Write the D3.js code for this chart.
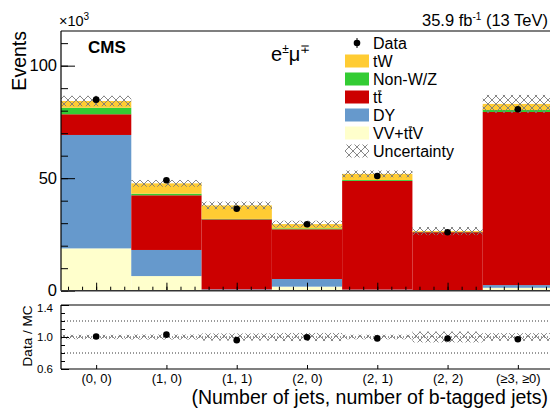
<!DOCTYPE html>
<html>
<head>
<meta charset="utf-8">
<script src="https://cdn.jsdelivr.net/npm/d3@7"></script>
<style>
    body { margin: 0; background: #fff; }
    svg { font-family: "Liberation Sans", Arial, sans-serif; }
    .axis path, .axis line { stroke: #000; }
    .axis text { font-family: "Liberation Sans", Arial, sans-serif; fill: #000; }
</style>
</head>
<body>
<script>
// Bins (number of jets, number of b-tagged jets)
var bins = ["(0, 0)", "(1, 0)", "(1, 1)", "(2, 0)", "(2, 1)", "(2, 2)", "(\u22653, \u22650)"];

// Stacked MC contributions, in units of 10^3 events (bottom to top)
var vvttv = [18.8, 6.5, 0.3, 1.8, 0.3, 0.1, 1.3];
var dy    = [50.4, 11.6, 0.3, 3.4, 0.2, 0.1, 1.2];
var ttbar = [9.2, 24.3, 31.1, 22.1, 48.3, 25.8, 76.9];
var nonwz = [2.9, 0.7, 0.2, 0.4, 0.4, 0.1, 0.9];
var tw    = [3.0, 4.6, 6.0, 1.9, 2.7, 0.4, 2.7];

// Observed data and total MC uncertainty (10^3 events)
var data = [84.9, 49.1, 36.4, 29.5, 51.0, 26.0, 80.6];
var unc  = [2.3, 1.5, 1.7, 1.5, 1.5, 1.8, 4.0];

var yTicksMain = [0, 50, 100];
var yTicksRatio = [0.6, 1.0, 1.4];

var processes = [
    { key: "VV+ttV", values: vvttv, color: "#ffffcc" },
    { key: "DY", values: dy, color: "#6699cc" },
    { key: "tt", values: ttbar, color: "#cc0000" },
    { key: "Non-W/Z", values: nonwz, color: "#33cc33" },
    { key: "tW", values: tw, color: "#ffcc33" }
];

var width = 550,
    height = 408;

var svg = d3.select("body")
    .append("svg")
    .attr("width", width)
    .attr("height", height);

// Cross hatch for the uncertainty band
var defs = svg.append("defs");
var pat = defs.append("pattern")
    .attr("id", "hatch")
    .attr("patternUnits", "userSpaceOnUse")
    .attr("width", 8)
    .attr("height", 8);
pat.append("path")
    .attr("d", "M0,0L8,8M0,8L8,0")
    .attr("stroke", "#7a7a7a")
    .attr("stroke-width", 0.9)
    .attr("fill", "none");

// Scales
var x = d3.scaleLinear().domain([0, bins.length]).range([61, 553]);
var y = d3.scaleLinear().domain([0, 115.4]).range([290.7, 31]);
var yr = d3.scaleLinear().domain([0.6, 1.4]).range([369, 305]);

// Build the stack
var rows = bins.map(function(b, i) {
    var r = { bin: b, i: i };
    processes.forEach(function(p) { r[p.key] = p.values[i]; });
    return r;
});
var stack = d3.stack().keys(processes.map(function(p) { return p.key; }));
var series = stack(rows);

var main = svg.append("g").attr("class", "main");

main.selectAll(".proc")
    .data(series)
    .enter()
    .append("g")
    .attr("class", "proc")
    .attr("fill", function(d, k) { return processes[k].color; })
    .selectAll("rect")
    .data(function(d) { return d; })
    .enter()
    .append("rect")
    .attr("x", function(d) { return x(d.data.i); })
    .attr("width", function(d) { return x(d.data.i + 1) - x(d.data.i); })
    .attr("y", function(d) { return y(d[1]); })
    .attr("height", function(d) { return y(d[0]) - y(d[1]); });

var totals = bins.map(function(b, i) {
    return d3.sum(processes, function(p) { return p.values[i]; });
});

// Uncertainty band
main.selectAll(".unc")
    .data(totals)
    .enter()
    .append("rect")
    .attr("class", "unc")
    .attr("x", function(d, i) { return x(i); })
    .attr("width", function(d, i) { return x(i + 1) - x(i); })
    .attr("y", function(d, i) { return y(d + unc[i]); })
    .attr("height", function(d, i) { return y(d - unc[i]) - y(d + unc[i]); })
    .attr("fill", "url(#hatch)");

// Data points
main.selectAll(".data")
    .data(data)
    .enter()
    .append("circle")
    .attr("class", "data")
    .attr("cx", function(d, i) { return x(i + 0.5); })
    .attr("cy", function(d) { return y(d); })
    .attr("r", 3.3)
    .attr("fill", "#000");

// Axes of the main panel
var minorY = d3.range(0, 115, 10);
svg.append("g")
    .attr("class", "axis")
    .attr("transform", "translate(61,0)")
    .call(d3.axisLeft(y).tickValues(minorY).tickSize(-7).tickFormat(""))
    .call(function(g) { g.select(".domain").remove(); });
svg.append("g")
    .attr("class", "axis")
    .attr("transform", "translate(61,0)")
    .call(d3.axisLeft(y).tickValues(yTicksMain).tickSize(-14).tickPadding(3))
    .call(function(g) {
        g.select(".domain").remove();
        g.selectAll("text").attr("font-size", 16.5).attr("dx", -1);
    });

var minorX = d3.range(0.1, bins.length, 0.2);
svg.append("g")
    .attr("class", "axis")
    .attr("transform", "translate(0,290.7)")
    .call(d3.axisBottom(x).tickValues(minorX).tickSize(-4).tickFormat(""))
    .call(function(g) { g.select(".domain").remove(); });
svg.append("g")
    .attr("class", "axis")
    .attr("transform", "translate(0,290.7)")
    .call(d3.axisBottom(x).tickValues(d3.range(0.5, bins.length, 1)).tickSize(-8).tickFormat(""))
    .call(function(g) { g.select(".domain").remove(); });

// Frame lines
svg.append("line").attr("x1", 61).attr("x2", 550).attr("y1", 31).attr("y2", 31)
    .attr("stroke", "#000").attr("stroke-width", 1.2);
svg.append("line").attr("x1", 61).attr("x2", 61).attr("y1", 31).attr("y2", 290.7)
    .attr("stroke", "#000").attr("stroke-width", 1.2);
svg.append("line").attr("x1", 61).attr("x2", 550).attr("y1", 290.7).attr("y2", 290.7)
    .attr("stroke", "#333").attr("stroke-width", 1.5);

// Texts of the main panel
svg.append("text")
    .attr("transform", "translate(26,31) rotate(-90)")
    .attr("text-anchor", "end")
    .attr("font-size", 19.5)
    .text("Events");

var e3 = svg.append("text").attr("x", 59).attr("y", 26).attr("font-size", 14.5);
e3.append("tspan").text("\u00d710");
e3.append("tspan").attr("dy", -6).attr("font-size", 10).text("3");

svg.append("text")
    .attr("x", 88).attr("y", 53)
    .attr("font-size", 17)
    .attr("font-weight", "bold")
    .text("CMS");

var lumi = svg.append("text").attr("x", 548).attr("y", 26)
    .attr("text-anchor", "end").attr("font-size", 16.5);
lumi.append("tspan").text("35.9 fb");
lumi.append("tspan").attr("dy", -6).attr("font-size", 10).text("-1");
lumi.append("tspan").attr("dy", 6).text(" (13 TeV)");

var chan = svg.append("text").attr("x", 271).attr("y", 61).attr("font-size", 20);
chan.append("tspan").text("e");
chan.append("tspan").attr("dy", -8).attr("font-size", 12).text("\u00b1");
chan.append("tspan").attr("dy", 8).text("\u03bc");
chan.append("tspan").attr("dy", -8).attr("font-size", 12).text("\u2213");

// Legend
var legendItems = [
    { label: "Data", type: "data" },
    { label: "tW", type: "fill", color: "#ffcc33" },
    { label: "Non-W/Z", type: "fill", color: "#33cc33" },
    { label: "tt", type: "fill", color: "#cc0000", bar: 1 },
    { label: "DY", type: "fill", color: "#6699cc" },
    { label: "VV+ttV", type: "fill", color: "#ffffcc", bar: 4 },
    { label: "Uncertainty", type: "hatch" }
];

var legend = svg.append("g").attr("class", "legend");
var rowsL = legend.selectAll("g")
    .data(legendItems)
    .enter()
    .append("g")
    .attr("transform", function(d, i) { return "translate(345," + (43 + i * 18) + ")"; });

rowsL.each(function(d) {
    var g = d3.select(this);
    if (d.type === "data") {
        g.append("circle").attr("cx", 12).attr("cy", 0).attr("r", 3.3).attr("fill", "#000");
        g.append("line").attr("x1", 12).attr("x2", 12).attr("y1", -5).attr("y2", 5)
            .attr("stroke", "#000").attr("stroke-width", 1);
    } else if (d.type === "fill") {
        g.append("rect").attr("x", 0).attr("y", -6.5).attr("width", 24).attr("height", 13)
            .attr("fill", d.color);
    } else {
        g.append("rect").attr("x", 0).attr("y", -6.5).attr("width", 24).attr("height", 13)
            .attr("fill", "url(#hatch)");
    }
    var t = g.append("text").attr("x", 28).attr("y", 6).attr("font-size", 16).text(d.label);
    // Bar over the anti-top "t"
    if (d.bar !== undefined) {
        var ext = t.node().getExtentOfChar(d.bar);
        g.append("line")
            .attr("x1", ext.x + 0.5).attr("x2", ext.x + ext.width - 0.5)
            .attr("y1", ext.y + 2).attr("y2", ext.y + 2)
            .attr("stroke", "#000").attr("stroke-width", 1.1);
    }
});

// Ratio panel
var ratio = svg.append("g").attr("class", "ratio");

[0.8, 1.0, 1.2].forEach(function(v) {
    ratio.append("line")
        .attr("x1", 61).attr("x2", 550)
        .attr("y1", yr(v)).attr("y2", yr(v))
        .attr("stroke", "#000").attr("stroke-width", 0.8)
        .attr("stroke-dasharray", "1,2");
});

ratio.selectAll(".runc")
    .data(totals)
    .enter()
    .append("rect")
    .attr("class", "runc")
    .attr("x", function(d, i) { return x(i); })
    .attr("width", function(d, i) { return x(i + 1) - x(i); })
    .attr("y", function(d, i) { return yr(1 + unc[i] / d); })
    .attr("height", function(d, i) { return yr(1 - unc[i] / d) - yr(1 + unc[i] / d); })
    .attr("fill", "url(#hatch)");

ratio.selectAll(".rdata")
    .data(data)
    .enter()
    .append("circle")
    .attr("class", "rdata")
    .attr("cx", function(d, i) { return x(i + 0.5); })
    .attr("cy", function(d, i) { return yr(d / totals[i]); })
    .attr("r", 3.3)
    .attr("fill", "#000");

svg.append("g")
    .attr("class", "axis")
    .attr("transform", "translate(61,0)")
    .call(d3.axisLeft(yr).tickValues(d3.range(0.6, 1.41, 0.1)).tickSize(-4).tickFormat(""))
    .call(function(g) { g.select(".domain").remove(); });
svg.append("g")
    .attr("class", "axis")
    .attr("transform", "translate(61,0)")
    .call(d3.axisLeft(yr).tickValues(yTicksRatio).tickSize(-8).tickPadding(3).tickFormat(d3.format(".1f")))
    .call(function(g) {
        g.select(".domain").remove();
        g.selectAll("text").attr("font-size", 11.5).attr("dx", -5)
            .attr("dy", function(d) { return d > 1.3 ? "0.55em" : "0.32em"; });
    });

svg.append("g")
    .attr("class", "axis")
    .attr("transform", "translate(0,369)")
    .call(d3.axisBottom(x).tickValues(d3.range(0.5, bins.length, 1)).tickSize(-4).tickPadding(5)
        .tickFormat(function(d) { return bins[Math.floor(d)]; }))
    .call(function(g) {
        g.select(".domain").remove();
        g.selectAll("text").attr("font-size", 13);
    });

ratio.append("line").attr("x1", 61).attr("x2", 550).attr("y1", 305).attr("y2", 305)
    .attr("stroke", "#000").attr("stroke-width", 1.2);
ratio.append("line").attr("x1", 61).attr("x2", 550).attr("y1", 369).attr("y2", 369)
    .attr("stroke", "#000").attr("stroke-width", 1.2);
ratio.append("line").attr("x1", 61).attr("x2", 61).attr("y1", 305).attr("y2", 369)
    .attr("stroke", "#000").attr("stroke-width", 1.2);

svg.append("text")
    .attr("transform", "translate(32,336) rotate(-90)")
    .attr("text-anchor", "middle")
    .attr("font-size", 13.5)
    .text("Data / MC");

svg.append("text")
    .attr("x", 548).attr("y", 404)
    .attr("text-anchor", "end")
    .attr("font-size", 19.5)
    .text("(Number of jets, number of b-tagged jets)");
</script>
</body>
</html>
